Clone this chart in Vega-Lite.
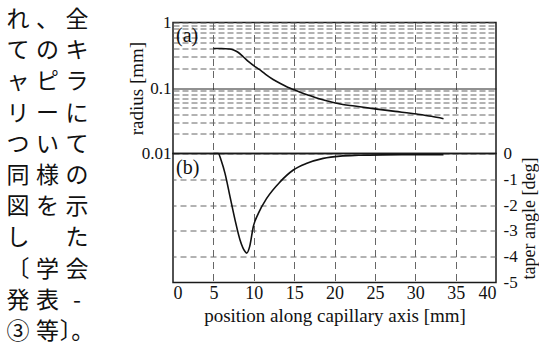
{
  "$schema": "https://vega.github.io/schema/vega-lite/v6.json",
  "padding": {"left": 0, "top": 8.5, "right": 0, "bottom": 0},
  "bounds": "flush",
  "spacing": 78,
  "datasets": {
    "textlines": [
      {"line": 1, "col": 1, "ch": "れ"}, {"line": 1, "col": 2, "ch": "、"}, {"line": 1, "col": 3, "ch": "全"},
      {"line": 2, "col": 1, "ch": "て"}, {"line": 2, "col": 2, "ch": "の"}, {"line": 2, "col": 3, "ch": "キ"},
      {"line": 3, "col": 1, "ch": "ャ"}, {"line": 3, "col": 2, "ch": "ピ"}, {"line": 3, "col": 3, "ch": "ラ"},
      {"line": 4, "col": 1, "ch": "リ"}, {"line": 4, "col": 2, "ch": "ー"}, {"line": 4, "col": 3, "ch": "に"},
      {"line": 5, "col": 1, "ch": "つ"}, {"line": 5, "col": 2, "ch": "い"}, {"line": 5, "col": 3, "ch": "て"},
      {"line": 6, "col": 1, "ch": "同"}, {"line": 6, "col": 2, "ch": "様"}, {"line": 6, "col": 3, "ch": "の"},
      {"line": 7, "col": 1, "ch": "図"}, {"line": 7, "col": 2, "ch": "を"}, {"line": 7, "col": 3, "ch": "示"},
      {"line": 8, "col": 1, "ch": "し"}, {"line": 8, "col": 3, "ch": "た"},
      {"line": 9, "col": 1, "ch": "〔"}, {"line": 9, "col": 2, "ch": "学"}, {"line": 9, "col": 3, "ch": "会"},
      {"line": 10, "col": 1, "ch": "発"}, {"line": 10, "col": 2, "ch": "表"}, {"line": 10, "col": 3, "ch": "-"},
      {"line": 11, "col": 1, "ch": "③"}, {"line": 11, "col": 2, "ch": "等"}, {"line": 11, "col": 3, "ch": "〕。"}
    ],
    "radius": [
      {"pos": 5, "r": 0.40}, {"pos": 6, "r": 0.40}, {"pos": 7, "r": 0.395}, {"pos": 7.5, "r": 0.38},
      {"pos": 8, "r": 0.355}, {"pos": 8.7, "r": 0.30}, {"pos": 9.4, "r": 0.25}, {"pos": 10.2, "r": 0.21},
      {"pos": 11, "r": 0.18}, {"pos": 11.6, "r": 0.157}, {"pos": 12.4, "r": 0.135}, {"pos": 13.3, "r": 0.117},
      {"pos": 14.2, "r": 0.103}, {"pos": 15.1, "r": 0.093}, {"pos": 16, "r": 0.084}, {"pos": 17, "r": 0.076},
      {"pos": 18, "r": 0.069}, {"pos": 19, "r": 0.064}, {"pos": 20.7, "r": 0.057}, {"pos": 22.5, "r": 0.053},
      {"pos": 25, "r": 0.048}, {"pos": 27.5, "r": 0.044}, {"pos": 30.2, "r": 0.040}, {"pos": 32, "r": 0.037},
      {"pos": 33.5, "r": 0.034}
    ],
    "taper": [
      {"pos": 5, "a": 0}, {"pos": 5.6, "a": 0}, {"pos": 6.0, "a": -0.3}, {"pos": 6.44, "a": -0.77},
      {"pos": 7.06, "a": -1.67}, {"pos": 7.68, "a": -2.57}, {"pos": 8.3, "a": -3.35}, {"pos": 8.92, "a": -3.8},
      {"pos": 9.13, "a": -3.86}, {"pos": 9.5, "a": -3.6}, {"pos": 9.95, "a": -2.83}, {"pos": 10.57, "a": -2.32},
      {"pos": 11.6, "a": -1.74}, {"pos": 13.26, "a": -1.1}, {"pos": 14.9, "a": -0.64}, {"pos": 16.5, "a": -0.39},
      {"pos": 18.6, "a": -0.19}, {"pos": 20.7, "a": -0.10}, {"pos": 23, "a": -0.07}, {"pos": 26, "a": -0.055},
      {"pos": 30, "a": -0.05}, {"pos": 33.5, "a": -0.05}
    ]
  },
  "hconcat": [
    {
      "width": 95,
      "height": 318,
      "view": {"stroke": null},
      "data": {"name": "textlines"},
      "mark": {"type": "text", "font": "Noto Sans CJK JP", "fontSize": 23, "align": "center", "baseline": "middle", "color": "#111"},
      "encoding": {
        "x": {"field": "col", "type": "quantitative", "scale": {"domain": [0.39, 3.61], "nice": false, "zero": false}, "axis": null},
        "y": {"field": "line", "type": "quantitative", "scale": {"domain": [1.083, 11.275], "nice": false, "zero": false, "reverse": true}, "axis": null},
        "text": {"field": "ch"}
      }
    },
    {
      "vconcat": [
        {
          "width": 323,
          "height": 131,
          "layer": [
            {
              "data": {"name": "radius"},
              "mark": {"type": "line", "color": "#111", "strokeWidth": 1.6, "interpolate": "monotone"},
              "encoding": {
                "x": {"field": "pos", "type": "quantitative", "scale": {"domain": [0, 40], "nice": false},
                  "axis": {"values": [5, 10, 15, 20, 25, 30, 35], "tickCount": 20, "labels": false, "ticks": false, "domain": false, "title": null, "grid": true, "gridDash": [7, 5]}},
                "y": {"field": "r", "type": "quantitative",
                  "scale": {"type": "log", "domain": [0.01, 1], "nice": false},
                  "axis": {
                    "values": [0.01, 0.02, 0.03, 0.04, 0.05, 0.06, 0.07, 0.08, 0.09, 0.1, 0.2, 0.3, 0.4, 0.5, 0.6, 0.7, 0.8, 0.9, 1],
                    "tickCount": 40,
                    "labelExpr": "(datum.value == 1 || datum.value == 0.1 || datum.value == 0.01) ? format(datum.value, '~g') : ''",
                    "labelOverlap": false,
                    "labelPadding": 2,
                    "title": "radius [mm]",
                    "titlePadding": -5,
                    "grid": true,
                    "gridDash": {"condition": {"test": "datum.value == 0.1", "value": []}, "value": [6, 3]},
                    "gridColor": {"condition": {"test": "datum.value == 0.1", "value": "#222"}, "value": "#666"}
                  }}
              }
            },
            {
              "data": {"values": [{"lab": "(a)", "pos": 0, "r": 1}]},
              "mark": {"type": "text", "align": "left", "baseline": "top", "dx": 3, "dy": 3, "font": "Liberation Serif", "fontSize": 20, "color": "#111"},
              "encoding": {
                "x": {"field": "pos", "type": "quantitative"},
                "y": {"field": "r", "type": "quantitative"},
                "text": {"field": "lab"}
              }
            }
          ]
        },
        {
          "width": 323,
          "height": 129,
          "layer": [
            {
              "data": {"name": "taper"},
              "mark": {"type": "line", "color": "#111", "strokeWidth": 1.6, "interpolate": "monotone"},
              "encoding": {
                "x": {"field": "pos", "type": "quantitative", "scale": {"domain": [0, 40], "nice": false},
                  "axis": {"values": [0, 5, 10, 15, 20, 25, 30, 35, 40], "tickCount": 20, "title": "position along capillary axis [mm]",
                    "labelPadding": 2, "titlePadding": 4, "grid": true, "gridDash": [7, 5], "labelFontSize": 18,
                    "labelOverlap": false,
                    "gridOpacity": {"condition": {"test": "datum.value == 0 || datum.value == 40", "value": 0}, "value": 1}}},
                "y": {"field": "a", "type": "quantitative", "scale": {"domain": [-5, 0], "nice": false},
                  "axis": {"orient": "right", "values": [0, -1, -2, -3, -4, -5], "tickCount": 20,
                    "labelExpr": "datum.value == 0 ? '0' : '-' + abs(datum.value)",
                    "labelOverlap": false,
                    "labelPadding": 7, "title": "taper angle [deg]", "titleAngle": 270, "titleBaseline": "top",
                    "titlePadding": 3, "titleFontSize": 18, "grid": true, "gridDash": [6, 4],
                    "gridOpacity": {"condition": {"test": "datum.value == 0 || datum.value == -5", "value": 0}, "value": 1}}}
              }
            },
            {
              "data": {"values": [{"lab": "(b)", "pos": 0, "a": 0}]},
              "mark": {"type": "text", "align": "left", "baseline": "top", "dx": 3, "dy": 4, "font": "Liberation Serif", "fontSize": 20, "color": "#111"},
              "encoding": {
                "x": {"field": "pos", "type": "quantitative"},
                "y": {"field": "a", "type": "quantitative"},
                "text": {"field": "lab"}
              }
            }
          ]
        }
      ],
      "spacing": 0,
      "bounds": "flush"
    }
  ],
  "config": {
    "view": {"stroke": "#1a1a1a", "strokeWidth": 1.5},
    "axis": {
      "labelFont": "Liberation Serif", "titleFont": "Liberation Serif",
      "labelFontSize": 17, "titleFontSize": 19, "titleFontWeight": "normal",
      "labelColor": "#111", "titleColor": "#111",
      "ticks": false, "domain": false,
      "gridColor": "#666", "gridWidth": 1, "gridDash": [6, 4]
    }
  }
}
